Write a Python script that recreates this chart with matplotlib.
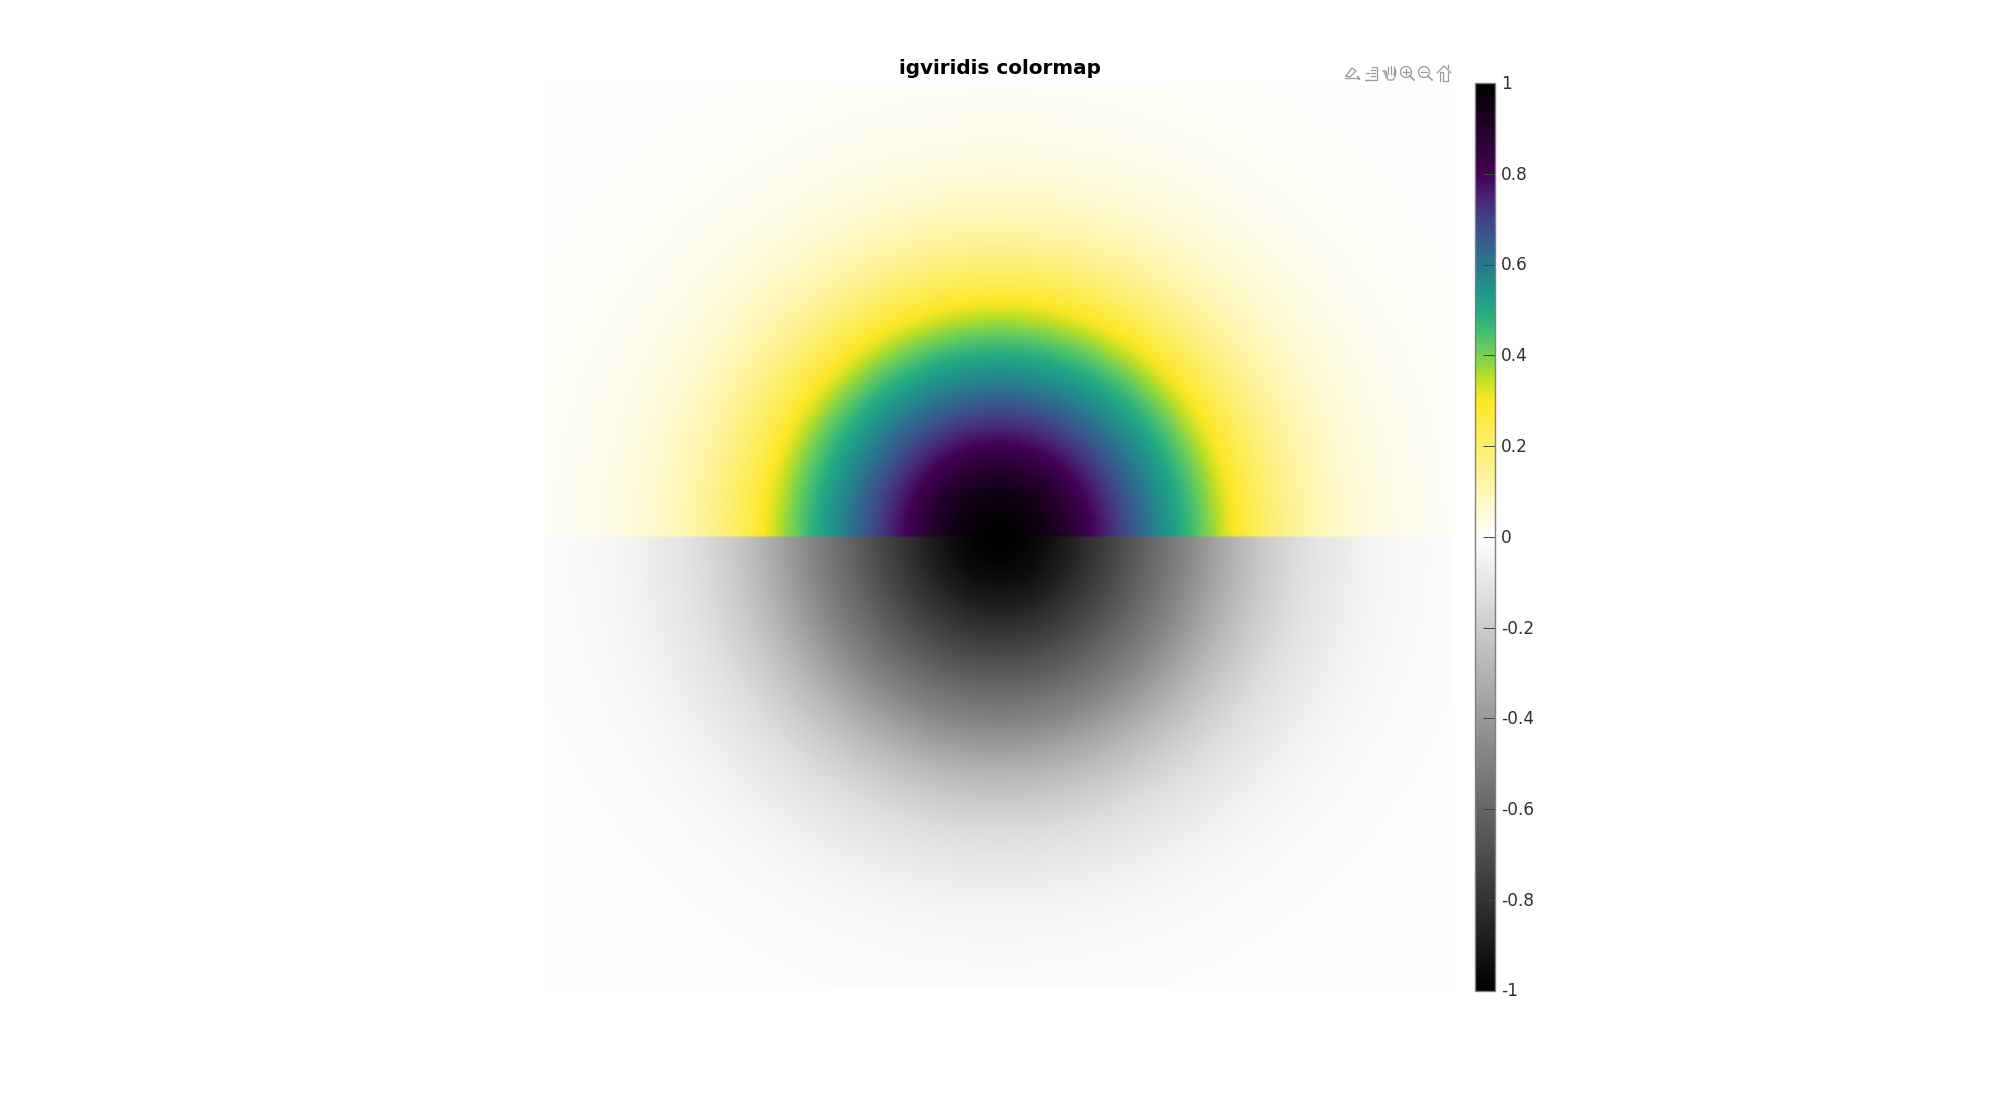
import numpy as np
import matplotlib
matplotlib.use("Agg")
import matplotlib.pyplot as plt
from matplotlib.colors import LinearSegmentedColormap, Normalize
from matplotlib.cm import ScalarMappable
from matplotlib.lines import Line2D
from matplotlib.patches import Circle
from matplotlib.transforms import IdentityTransform, Affine2D

title = "igviridis colormap"
tick_values = [-1, -0.8, -0.6, -0.4, -0.2, 0, 0.2, 0.4, 0.6, 0.8, 1]
tick_labels = ["-1", "-0.8", "-0.6", "-0.4", "-0.2", "0", "0.2", "0.4", "0.6", "0.8", "1"]

# Colormap stops
cmap_values = [-1.0, 0.0, 0.3, 0.35, 0.4, 0.45, 0.5, 0.55, 0.6, 0.65, 0.7, 0.75, 0.8, 1.0]
cmap_colors = ["#000000", "#ffffff", "#fde725", "#bddf26", "#7ad151", "#44bf70", "#22a884",
               "#21918c", "#2a788e", "#355f8d", "#414487", "#482475", "#440154", "#000000"]

# Radial profile: distance from centre (half-width = 1) and |value|
radius = [0.00, 0.05, 0.10, 0.15, 0.20, 0.25, 0.30, 0.35, 0.40, 0.45, 0.50, 0.55,
          0.60, 0.65, 0.70, 0.75, 0.80, 0.85, 0.90, 0.95, 1.00, 1.20, 1.45]
level = [1.00, 0.985, 0.945, 0.885, 0.805, 0.73, 0.65, 0.57, 0.495, 0.41, 0.325, 0.25,
         0.19, 0.14, 0.103, 0.075, 0.052, 0.036, 0.024, 0.016, 0.01, 0.002, 0.0]

W, H = 2000, 1113
fig = plt.figure(figsize=(W / 100, H / 100), dpi=100, facecolor="white")
plt.rcParams["font.family"] = "DejaVu Sans"


def box(x0, y0, x1, y1):
    return [x0 / W, 1 - y1 / H, (x1 - x0) / W, (y1 - y0) / H]


cmap = LinearSegmentedColormap.from_list(
    "igviridis", [((v + 1) / 2, c) for v, c in zip(cmap_values, cmap_colors)], N=512)
norm = Normalize(-1, 1)

# Surface: the profile above, revolved about the centre; upper half positive, lower negative
n = 300
axis = (np.arange(n) + 0.5) / n * 2 - 1
xx, yy = np.meshgrid(axis, axis)
field = np.interp(np.hypot(xx, yy), radius, level) * np.sign(yy)

ax = fig.add_axes(box(543.5, 83.5, 1453, 990))
ax.imshow(field, cmap=cmap, norm=norm, origin="lower", extent=(-1, 1, -1, 1),
          interpolation="bilinear", interpolation_stage="rgba", aspect="auto")
ax.set_axis_off()

fig.text(999.5 / W, 1 - 68 / H, title, ha="center", va="center", fontsize=14.4,
         fontweight="bold", color="black")

cax = fig.add_axes(box(1475, 83, 1494.5, 990.5))
cb = fig.colorbar(ScalarMappable(norm=norm, cmap=cmap), cax=cax, ticks=tick_values)
cb.ax.set_yticklabels(tick_labels)
cb.ax.tick_params(axis="y", direction="in", length=9, width=0.7, color="#404040",
                  labelsize=12.2, labelcolor="#303030", pad=4.5, right=True, left=False)
for lab in cb.ax.get_yticklabels():
    lab.set_va("center")
    lab.set_transform(lab.get_transform() + Affine2D().translate(0, -1))
cb.outline.set_edgecolor("#808080")
cb.outline.set_linewidth(1.0)

# Toolbar icons
ICON = "#9a9a9a"


def stroke(xs, ys, lw=0.9):
    fig.add_artist(Line2D([x / W for x in xs], [1 - y / H for y in ys], color=ICON, lw=lw,
                          transform=fig.transFigure))


def ring(cx, cy, r):
    fig.add_artist(Circle((cx, H - cy), r, transform=IdentityTransform(), fill=False,
                          ec=ICON, lw=0.9))


# brush
stroke([1345, 1359], [78, 78])
stroke([1346, 1352, 1356, 1350, 1346], [76, 68, 71, 77, 76])
stroke([1359, 1358], [79, 77], 1.4)
# legend
stroke([1372, 1377, 1377, 1365, 1368], [67, 67, 80, 80, 80])
stroke([1366, 1369], [73, 73])
stroke([1371, 1375], [70, 70])
stroke([1371, 1375], [73, 73])
stroke([1371, 1375], [76, 76])
# hand
stroke([1386, 1385, 1383, 1386, 1388, 1393, 1395, 1396, 1395, 1394],
       [78, 73, 71, 71, 80, 80, 77, 71, 69, 75])
stroke([1388, 1388], [74, 67])
stroke([1391, 1391], [74, 66])
stroke([1394, 1394], [74, 67])
# zoom in
ring(1406, 72, 5.5)
stroke([1403, 1409], [72, 72])
stroke([1406, 1406], [69, 75])
stroke([1410, 1414], [76, 80], 1.2)
# zoom out
ring(1424, 72, 5.5)
stroke([1421, 1427], [72, 72])
stroke([1428, 1432], [76, 80], 1.2)
# home
stroke([1437, 1444, 1451], [73, 66, 73])
stroke([1440, 1440, 1443, 1443, 1448, 1448], [81, 72, 72, 81, 81, 72])
stroke([1448, 1448], [68, 65])

fig.savefig("out.png", dpi=100, facecolor="white")
